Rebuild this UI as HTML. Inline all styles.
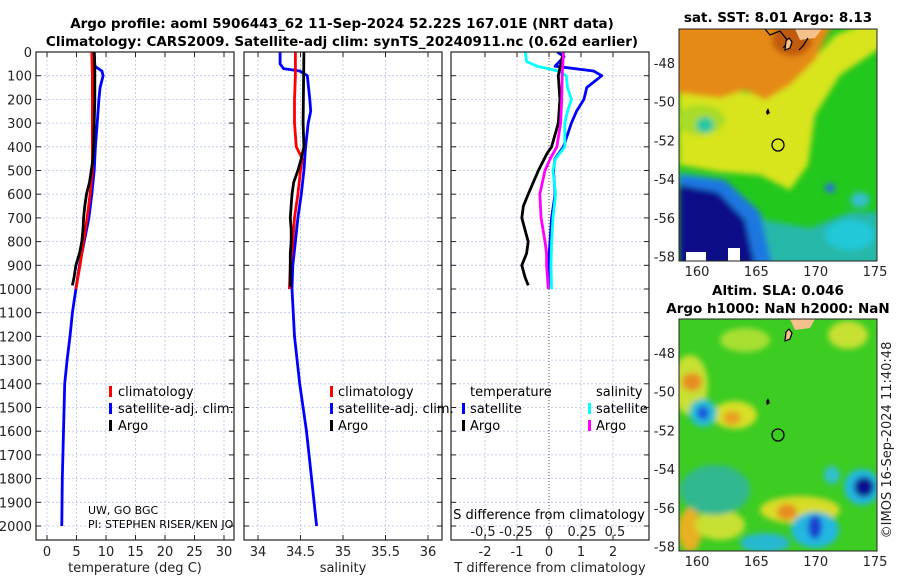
<!DOCTYPE html>
<html><head><meta charset="utf-8"><style>
body{margin:0;background:#fff;}
svg{display:block;font-family:"DejaVu Sans","Liberation Sans",sans-serif;}
.tk{font-size:13px;fill:#222;}
.tt{font-size:13.5px;font-weight:bold;fill:#000;}
.lg{font-size:13px;fill:#000;}
</style></head><body>
<svg id="fig" width="900" height="580" viewBox="0 0 900 580" xmlns="http://www.w3.org/2000/svg">
<defs>
<filter id="bl" x="-20%" y="-20%" width="140%" height="140%"><feGaussianBlur stdDeviation="3"/></filter>
<clipPath id="c1"><rect x="679" y="29" width="198" height="232"/></clipPath>
<clipPath id="c2"><rect x="679" y="319" width="198" height="232"/></clipPath>
<clipPath id="cp1"><rect x="36" y="52" width="198" height="488"/></clipPath>
<clipPath id="cp2"><rect x="244" y="52" width="198" height="488"/></clipPath>
<clipPath id="cp3"><rect x="451" y="52" width="198" height="488"/></clipPath>
</defs>
<text class="tt" x="342" y="28" text-anchor="middle">Argo profile: aoml 5906443_62 11-Sep-2024 52.22S 167.01E (NRT data)</text>
<text class="tt" x="342" y="46" text-anchor="middle">Climatology: CARS2009. Satellite-adj clim: synTS_20240911.nc (0.62d earlier)</text>
<g id="grids"></g>
<g id="marks"></g>
<g id="axes"></g>

<!-- Map 1 -->
<g>
<text class="tt" x="778" y="22" text-anchor="middle">sat. SST: 8.01 Argo: 8.13</text>
<g clip-path="url(#c1)">
<rect x="679" y="29" width="198" height="232" fill="#22c81c"/>
<g filter="url(#bl)">
<polygon fill="#d8e41c" points="679,80 760,95 800,75 835,35 860,25 885,25 885,45 840,75 815,115 808,165 790,190 760,175 720,172 679,165"/>
<polygon fill="#e58a12" points="670,20 835,20 815,60 790,85 765,100 745,90 720,98 670,92"/>
<ellipse cx="792" cy="40" rx="20" ry="16" fill="#c05a08"/>
<ellipse cx="700" cy="120" rx="25" ry="15" fill="#a8dc28"/>
<ellipse cx="705" cy="125" rx="9" ry="8" fill="#28c8a0"/>
<polygon fill="#28b8a8" points="679,172 725,180 765,220 810,228 850,212 880,212 880,265 679,265"/>
<polygon fill="#1a78e0" points="679,175 725,180 760,212 772,265 679,265"/>
<polygon fill="#0c0c88" points="679,185 718,192 745,220 755,265 679,265"/>
<ellipse cx="850" cy="235" rx="25" ry="15" fill="#20c8d8"/>
<ellipse cx="860" cy="200" rx="10" ry="8" fill="#30c0c8"/>
<ellipse cx="830" cy="188" rx="5" ry="5" fill="#2a70e0"/>
</g>
<rect x="686" y="252" width="20" height="9" fill="#fff"/>
<rect x="728" y="248" width="12" height="13" fill="#fff"/>
<polygon fill="#f5c08c" points="795,29 822,29 815,38 800,40"/>
<path d="M765,29 l5,6 l10,-4 l8,10 l-4,6 l8,-3 M808,38 l-5,8 l-4,4" stroke="#000" stroke-width="1.3" fill="none"/>
<path d="M786,41 l3,-3 l3,4 l-2,6 l-5,2z" fill="#f5c08c" stroke="#000" stroke-width="1.2"/>
<path d="M766,112 l2,-4 l2,5 l-3,2z" fill="#000"/>
<circle cx="778" cy="145" r="6" fill="none" stroke="#000" stroke-width="1.3"/>
</g>
<rect x="679" y="29" width="198" height="232" fill="none" stroke="#222" stroke-width="1"/>
</g>

<!-- Map 2 -->
<g>
<text class="tt" x="778" y="295" text-anchor="middle">Altim. SLA: 0.046</text>
<text class="tt" x="778" y="313" text-anchor="middle">Argo h1000: NaN h2000: NaN</text>
<g clip-path="url(#c2)">
<rect x="679" y="319" width="198" height="232" fill="#3ccc22"/>
<g filter="url(#bl)">
<ellipse cx="690" cy="385" rx="18" ry="30" fill="#c8e030"/>
<ellipse cx="692" cy="382" rx="10" ry="9" fill="#e88c20"/>
<ellipse cx="735" cy="415" rx="22" ry="14" fill="#d8e028"/>
<ellipse cx="732" cy="418" rx="9" ry="7" fill="#e8a020"/>
<ellipse cx="745" cy="340" rx="25" ry="12" fill="#a8e030"/>
<ellipse cx="848" cy="335" rx="20" ry="14" fill="#c8e030"/>
<ellipse cx="690" cy="530" rx="12" ry="22" fill="#e8b020"/>
<ellipse cx="720" cy="525" rx="25" ry="15" fill="#c8e030"/>
<ellipse cx="800" cy="510" rx="40" ry="14" fill="#d8dc28"/>
<ellipse cx="787" cy="512" rx="10" ry="8" fill="#e88c20"/>
<ellipse cx="715" cy="490" rx="35" ry="25" fill="#30b890"/>
<ellipse cx="703" cy="413" rx="14" ry="14" fill="#28c0d0"/>
<ellipse cx="703" cy="413" rx="6" ry="7" fill="#1a50e0"/>
<ellipse cx="862" cy="487" rx="18" ry="18" fill="#20b8e0"/>
<ellipse cx="864" cy="487" rx="10" ry="10" fill="#0c1090"/>
<ellipse cx="815" cy="530" rx="24" ry="18" fill="#20b8e0"/>
<ellipse cx="815" cy="527" rx="7" ry="12" fill="#1a40d0"/>
<ellipse cx="765" cy="543" rx="25" ry="10" fill="#28b8d0"/>
<ellipse cx="832" cy="475" rx="8" ry="9" fill="#30c0d0"/>
</g>
<polygon fill="#f5c08c" points="790,319 815,319 810,328 795,330"/>
<path d="M786,332 l3,-3 l3,4 l-2,6 l-5,2z" fill="#f5c08c" stroke="#000" stroke-width="1.2"/>
<path d="M766,402 l2,-4 l2,5 l-3,2z" fill="#000"/>
<circle cx="778" cy="435" r="6" fill="none" stroke="#000" stroke-width="1.3"/>
</g>
<rect x="679" y="319" width="198" height="232" fill="none" stroke="#222" stroke-width="1"/>
</g>
<text x="0" y="0" font-size="13" fill="#222" text-anchor="middle" transform="translate(891,440) rotate(-90)">©IMOS 16-Sep-2024 11:40:48</text>

<!-- legends -->
<g>
<rect x="109" y="386" width="3" height="11" fill="#f00"/><text class="lg" x="118" y="396">climatology</text>
<rect x="109" y="403" width="3" height="11" fill="#00f"/><text class="lg" x="118" y="413">satellite-adj. clim.</text>
<rect x="109" y="420" width="3" height="11" fill="#000"/><text class="lg" x="118" y="430">Argo</text>
</g>
<g>
<rect x="330" y="386" width="3" height="11" fill="#f00"/><text class="lg" x="338" y="396">climatology</text>
<rect x="330" y="403" width="3" height="11" fill="#00f"/><text class="lg" x="338" y="413">satellite-adj. clim.</text>
<rect x="330" y="420" width="3" height="11" fill="#000"/><text class="lg" x="338" y="430">Argo</text>
</g>
<g>
<text class="lg" x="470" y="396">temperature</text><text class="lg" x="596" y="396">salinity</text>
<rect x="462" y="403" width="3" height="11" fill="#00f"/><text class="lg" x="470" y="413">satellite</text>
<rect x="462" y="420" width="3" height="11" fill="#000"/><text class="lg" x="470" y="430">Argo</text>
<rect x="588" y="403" width="3" height="11" fill="#0ff"/><text class="lg" x="596" y="413">satellite</text>
<rect x="588" y="420" width="3" height="11" fill="#f0f"/><text class="lg" x="596" y="430">Argo</text>
</g>
<g clip-path="url(#cp1)">
<text x="88" y="514" font-size="11" fill="#000">UW, GO BGC</text>
<text x="88" y="528" font-size="11" fill="#000">PI: STEPHEN RISER/KEN JOHNSON</text>
</g>
<text class="lg" x="549" y="519" text-anchor="middle" font-size="14">S difference from climatology</text>
</svg>
<script>
// depths (m)
const depthTicks=[0,100,200,300,400,500,600,700,800,900,1000,1100,1200,1300,1400,1500,1600,1700,1800,1900,2000];
const tempTicks=[0,5,10,15,20,25,30];
const salTicks=[34,34.5,35,35.5,36];
const salTickLabels=["34","34.5","35","35.5","36"];
const tdiffTicks=[-2,-1,0,1,2];
const sdiffTicks=[-0.5,-0.25,0,0.25,0.5];
const sdiffTickLabels=["-0.5","-0.25","0","0.25","0.5"];
// Temperature profiles
const climTDepth=[0,100,200,300,400,500,600,700,800,900,1000];
const climT=[7.6,7.7,7.7,7.7,7.7,7.7,7.3,6.8,6.2,5.6,4.9];
const satTDepth=[0,60,80,100,150,200,300,400,500,600,700,800,900,1000,1100,1200,1300,1400,1500,1600,1800,2000];
const satT=[8.0,8.1,9.3,9.5,9.0,8.8,8.5,8.2,8.0,7.6,7.1,6.3,5.5,4.9,4.3,3.9,3.4,3.0,2.9,2.8,2.6,2.5];
const argoTDepth=[0,60,100,200,300,400,450,500,550,600,650,700,750,800,850,900,950,985];
const argoT=[8.0,8.1,8.1,8.1,8.0,7.9,7.8,7.5,7.2,6.7,6.4,6.2,6.1,5.9,5.5,4.9,4.6,4.3];
// Salinity profiles
const climSDepth=[0,100,200,300,400,450,500,600,700,800,900,1000];
const climS=[34.44,34.44,34.43,34.43,34.45,34.52,34.5,34.47,34.43,34.41,34.38,34.37];
const satSDepth=[0,50,70,80,100,200,250,300,400,500,600,700,800,900,1000,1200,1400,1600,1800,2000];
const satS=[34.26,34.26,34.30,34.49,34.58,34.61,34.62,34.59,34.56,34.54,34.51,34.47,34.44,34.41,34.40,34.43,34.49,34.57,34.63,34.69];
const argoSDepth=[0,300,400,450,500,550,600,700,750,800,850,900,990];
const argoS=[34.54,34.53,34.54,34.51,34.47,34.42,34.40,34.38,34.39,34.39,34.38,34.38,34.38];
// Differences from climatology
const satTdDepth=[0,20,60,80,100,150,200,250,300,400,450,500,600,700,800,900,1000];
const satTd=[0.26,0.47,0.19,1.39,1.65,1.18,1.09,0.86,0.7,0.45,0.19,0.14,0.19,0.08,0.03,-0.02,-0.02];
const satSdDepth=[0,40,60,80,100,150,200,250,300,400,450,500,600,700,800,900,1000];
const satSd=[-0.18,-0.17,-0.09,0.07,0.13,0.14,0.17,0.14,0.12,0.12,0.05,0.03,0.05,0.03,0.02,0.015,0.02];
const argoTdDepth=[0,100,200,300,400,430,500,550,600,650,700,750,800,850,900,950,985];
const argoTd=[0.45,0.29,0.34,0.29,0.08,-0.07,-0.33,-0.49,-0.65,-0.8,-0.85,-0.75,-0.65,-0.7,-0.85,-0.75,-0.65];
const argoSdDepth=[0,100,200,300,400,450,500,600,700,800,850,900,1000];
const argoSd=[0.11,0.10,0.096,0.088,0.06,0.01,-0.03,-0.07,-0.06,-0.03,-0.018,-0.018,-0.005];

const NS="http://www.w3.org/2000/svg";
const TOP=52,BOT=540;
function yD(d){return TOP+d*0.237;}
function xT(t){return 47+t*5.9;}
function xS(s){return 258+(s-34)*85;}
function xTd(t){return 549+t*32;}
function xSd(s){return 549+s*132;}
function el(tag,attrs,parent){const e=document.createElementNS(NS,tag);for(const k in attrs)e.setAttribute(k,attrs[k]);parent.appendChild(e);return e;}
const grids=document.getElementById('grids'),marks=document.getElementById('marks'),axes=document.getElementById('axes');
const panels=[{x0:36,x1:234,ticks:tempTicks,labels:tempTicks.map(String),fx:xT,title:"temperature (deg C)",name:"temperature"},
{x0:244,x1:442,ticks:salTicks,labels:salTickLabels,fx:xS,title:"salinity",name:"salinity"},
{x0:451,x1:649,ticks:tdiffTicks,labels:tdiffTicks.map(String),fx:xTd,title:"T difference from climatology",name:"difference"}];
panels.forEach((p,i)=>{
  depthTicks.forEach(d=>{
    const l=el('line',{x1:p.x0,x2:p.x1,y1:yD(d),y2:yD(d),stroke:'#b8c4e8','stroke-width':0.8,'stroke-dasharray':'2,2'},grids);
    
    
    el('line',{x1:p.x0,x2:p.x0+5,y1:yD(d),y2:yD(d),stroke:'#222'},axes);
    el('line',{x1:p.x1-5,x2:p.x1,y1:yD(d),y2:yD(d),stroke:'#222'},axes);
    if(i===0){const t=el('text',{x:32,y:yD(d)+5,'text-anchor':'end',class:'tk'},axes);t.textContent=d;
      
      }
  });
  p.ticks.forEach((v,j)=>{
    const x=p.fx(v);
    if(!(i===2&&v===0)){const g=el('line',{x1:x,x2:x,y1:TOP,y2:BOT,stroke:'#b8c4e8','stroke-width':0.8,'stroke-dasharray':'2,2'},grids);
      
      }
    el('line',{x1:x,x2:x,y1:BOT-5,y2:BOT,stroke:'#222'},axes);
    el('line',{x1:x,x2:x,y1:TOP,y2:TOP+5,stroke:'#222'},axes);
    const t=el('text',{x:x,y:556,'text-anchor':'middle',class:'tk'},axes);t.textContent=p.labels[j];
    
    
  });
  const fr=el('rect',{x:p.x0,y:TOP,width:p.x1-p.x0,height:BOT-TOP,fill:'none',stroke:'#222','stroke-width':1.2},axes);
  
  
  const tt=el('text',{x:(p.x0+p.x1)/2,y:572,'text-anchor':'middle',class:'tk','font-size':'14'},axes);tt.textContent=p.title;
  
  
});
sdiffTicks.forEach((v,j)=>{const t=el('text',{x:xSd(v),y:536,'text-anchor':'middle',class:'tk'},axes);t.textContent=sdiffTickLabels[j];
  
  });
const zl=el('line',{x1:xTd(0),x2:xTd(0),y1:TOP,y2:BOT,stroke:'#555','stroke-width':1,'stroke-dasharray':'1,2'},grids);


function line(depths,vals,fx,color,name,clip){
  const pts=depths.map((d,i)=>fx(vals[i]).toFixed(1)+','+yD(d).toFixed(1)).join(' ');
  const pl=el('polyline',{points:pts,fill:'none',stroke:color,'stroke-width':2.8,'stroke-linejoin':'round','clip-path':'url(#'+clip+')'},marks);
  
  
}
line(satTDepth,satT,xT,'#00f','temp-satellite-line','cp1');
line(climTDepth,climT,xT,'#f00','temp-climatology-line','cp1');
line(argoTDepth,argoT,xT,'#000','temp-argo-line','cp1');
line(satSDepth,satS,xS,'#00f','sal-satellite-line','cp2');
line(climSDepth,climS,xS,'#f00','sal-climatology-line','cp2');
line(argoSDepth,argoS,xS,'#000','sal-argo-line','cp2');
line(satTdDepth,satTd,xTd,'#00f','tdiff-satellite-line','cp3');
line(satSdDepth,satSd,xSd,'#0ff','sdiff-satellite-line','cp3');
line(argoTdDepth,argoTd,xTd,'#000','tdiff-argo-line','cp3');
line(argoSdDepth,argoSd,xSd,'#f0f','sdiff-argo-line','cp3');
// map ticks
const latTicks=[-48,-50,-52,-54,-56,-58];
const lonTicks=[160,165,170,175];
[[29,63],[319,353]].forEach(([top,y48],mi)=>{
  latTicks.forEach(la=>{const y=y48+(-48-la)*19.35;
    el('line',{x1:679,x2:683,y1:y,y2:y,stroke:'#222'},axes);el('line',{x1:873,x2:877,y1:y,y2:y,stroke:'#222'},axes);
    const t=el('text',{x:675,y:y+5,'text-anchor':'end',class:'tk'},axes);t.textContent=la;
    
    });
  const bot=top+232;
  lonTicks.forEach(lo=>{const x=697+(lo-160)*11.87;
    el('line',{x1:x,x2:x,y1:bot-4,y2:bot,stroke:'#222'},axes);
    const t=el('text',{x:x,y:bot+15,'text-anchor':'middle',class:'tk'},axes);t.textContent=lo;
    
    });
});
</script>
</body></html>
